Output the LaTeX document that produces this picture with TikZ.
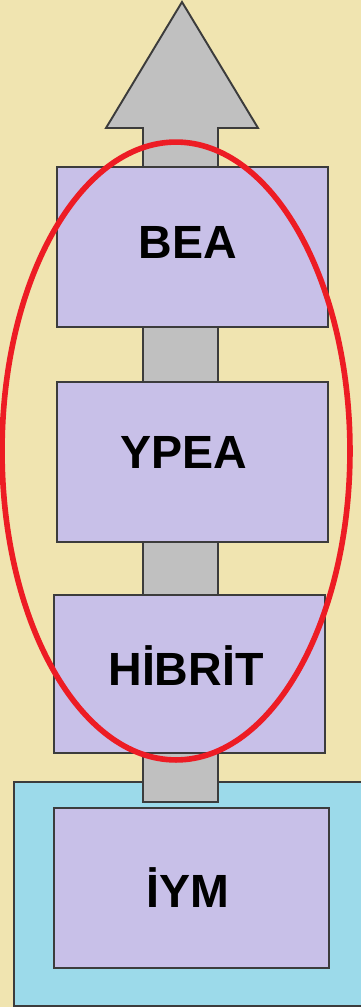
\documentclass[tikz,border=0pt]{standalone}
\usepackage{fontspec}
\setmainfont{Liberation Sans}
\definecolor{bgc}{RGB}{240,228,176}
\definecolor{boxc}{RGB}{200,192,232}
\definecolor{cyanc}{RGB}{156,218,234}
\definecolor{grayc}{RGB}{192,192,192}
\definecolor{redc}{RGB}{237,28,36}
\definecolor{edgec}{RGB}{60,60,60}
\tikzset{
  lvlbox/.style={draw=edgec, line width=1.1pt, fill=boxc, minimum width=5.42cm, minimum height=3.2cm, inner sep=0pt},
  lvltxt/.style={anchor=base, inner sep=0pt, font=\fontsize{26.5}{30}\selectfont\bfseries, text=black},
}
\begin{document}
\begin{tikzpicture}[x=0.02cm,y=-0.02cm]
\useasboundingbox (0,0) rectangle (361,1007);
\clip (0,0) rectangle (361,1007);
\fill[bgc] (0,0) rectangle (361,1007);
% outer cyan frame
\node[draw=edgec, line width=1.1pt, fill=cyanc, minimum width=7.2cm, minimum height=4.48cm, inner sep=0pt, anchor=north west] (frame) at (13,781) {};
% gray arrow
\draw[draw=edgec, line width=1.1pt, fill=grayc, line join=miter]
  (143,802) -- (143,128) -- (106,128) -- (182,2) -- (258,128) -- (218,128) -- (218,802) -- cycle;
% level boxes
\node[lvlbox] (bea) at (192.5,247) {};
\node[lvlbox] (ypea) at (192.5,462) {};
\node[lvlbox, minimum height=3.16cm] (hibrit) at (189.5,674) {};
\node[lvlbox, minimum width=5.5cm] (iym) at (191.5,888) {};
\node[lvltxt] (beat) at (188,258) {BEA};
\node[lvltxt] (ypeat) at (184,468) {YPEA};
\node[lvltxt] (hibritt) at (186,685) {HİBRİT};
\node[lvltxt] (iymt) at (188,907) {İYM};
% red ellipse
\draw[redc, line width=3.2pt] (176,451) ellipse [x radius=3.48cm, y radius=6.18cm];
\end{tikzpicture}
\end{document}
